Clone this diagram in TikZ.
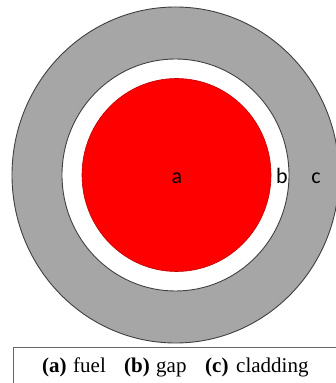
\documentclass[tikz,border=0pt]{standalone}
\usepackage{fontspec}
\setmainfont{Liberation Serif}
\newfontfamily\labfont{Carlito}
\definecolor{cladgray}{HTML}{A6A6A6}
\definecolor{edgegray}{HTML}{404040}
\begin{document}
\begin{tikzpicture}[x=1pt,y=1pt,
  ring/.style={draw=edgegray, line width=0.9pt},
  lab/.style={font=\labfont\fontsize{22}{22}\selectfont, inner sep=0pt, anchor=base},
  legend/.style={font=\fontsize{21}{22}\selectfont, inner sep=0pt, anchor=base west}]
\useasboundingbox (0,0) rectangle (336,383);
\clip (0,0) rectangle (336,383);
\fill[white] (0,0) rectangle (336,383);
\coordinate (ctr) at (175.5,208);
\path[ring, fill=cladgray] (ctr) ellipse [x radius=163.5, y radius=168];
\path[ring, fill=white] (ctr) ellipse [x radius=113.5, y radius=116];
\path[draw=red!75!black, line width=0.6pt, fill=red] (176.5,208) ellipse [x radius=94.5, y radius=96.5];
\node[lab] (a) at (177,199) {a};
\node[lab] (b) at (282,199) {b};
\node[lab] (c) at (316,199) {c};
\draw[draw=edgegray!80, line width=1pt] (13,-5) rectangle (345,35);
\node[legend] (la) at (42,10) {\textbf{(a)}};
\node[legend] (lfuel) at (73,10) {fuel};
\node[legend] (lb) at (124,10) {\textbf{(b)}};
\node[legend] (lgap) at (156,10) {gap};
\node[legend] (lc) at (205,10) {\textbf{(c)}};
\node[legend] (lclad) at (236,10) {cladding};
\end{tikzpicture}
\end{document}
